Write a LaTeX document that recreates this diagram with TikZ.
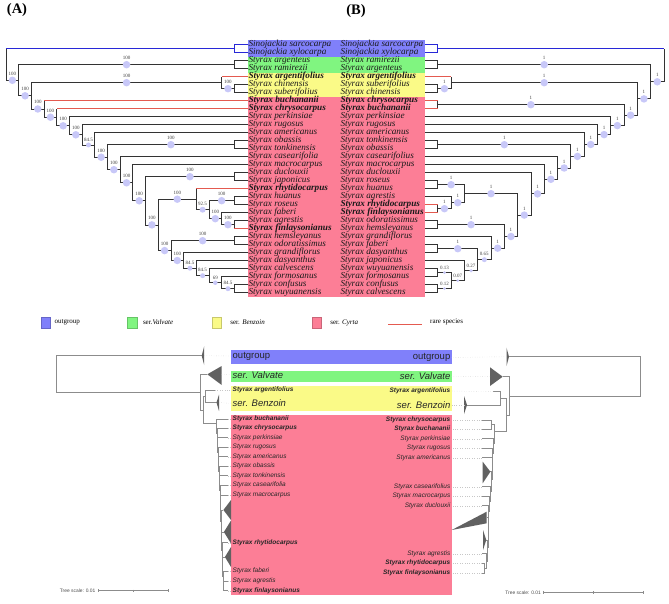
\documentclass[tikz,border=0pt]{standalone}
\usepackage{fontspec}
\setmainfont{Liberation Serif}
\setsansfont{Liberation Sans}
\usetikzlibrary{positioning,calc}
\definecolor{ogblue}{RGB}{128,128,250}
\definecolor{valgreen}{RGB}{128,245,128}
\definecolor{bzyellow}{RGB}{250,250,135}
\definecolor{cyrpink}{RGB}{252,126,150}
\definecolor{suppcol}{RGB}{200,200,248}
\definecolor{oglinecol}{RGB}{40,40,215}
\definecolor{rarecol}{RGB}{228,90,80}
\newcommand{\ax}[1]{247-12.68*#1}
\newcommand{\bx}[1]{424.5+13.3*#1}
\newcommand{\sbr}[4][7.5]{\draw[branch] (#2) |- (#3) node[support=#1,pos=.75,label={[suplab]above:#4}] (s-#3) {};}
\newcommand{\rtip}[2]{\draw[branch] (#1) -- (#1 |- #2); \draw[rare] (#1 |- #2) -- (#2);}

\begin{document}
\begin{tikzpicture}[x=1pt,y=-1pt,
branch/.style={draw=black!80, line width=0.8pt},
ogline/.style={draw=oglinecol, line width=0.8pt},
rare/.style={draw=rarecol, line width=0.8pt},
support/.style={circle, fill=suppcol, inner sep=0pt, minimum size=#1},
support/.default=7.5,
suplab/.style={font=\fontsize{5}{5}\selectfont, text=black!75, inner sep=0.4pt, label distance=0pt},
tipA/.style={anchor=west, inner sep=0pt, font=\fontsize{9.2}{9.2}\selectfont\itshape, text=black!90},
panel/.style={font=\fontsize{14.5}{14.5}\selectfont\bfseries, inner sep=0pt},
legbox/.style={rectangle, draw=#1!80!black, line width=0.3pt, fill=#1, minimum width=9.3pt, minimum height=11pt, inner sep=0pt},
legtext/.style={font=\fontsize{7}{7}\selectfont, inner sep=0pt},
itol/.style={draw=black!45, line width=0.5pt},
clade/.style={fill=black!62},
guide/.style={draw=black!22, dotted, line width=0.4pt},
mlab/.style={anchor=west, inner sep=0pt, font=\sffamily\fontsize{6.5}{6.5}\selectfont\itshape, text=black!85},
mlabr/.style={mlab, anchor=east},
mser/.style={anchor=west, inner sep=0pt, font=\sffamily\fontsize{9.5}{9.5}\selectfont, text=black!85},
mserr/.style={mser, anchor=east},
scaletext/.style={inner sep=0pt, font=\sffamily\fontsize{4.9}{4.9}\selectfont, text=black!70},
]
\useasboundingbox (0,0) rectangle (669,604);

\node[panel] (pa) at (17,10) {(A)};
\node[panel] (pb) at (356,11) {(B)};

\fill[ogblue] (248,39.7) rectangle (424.5,56.7);
\fill[valgreen] (248,56.7) rectangle (424.5,72.7);
\fill[bzyellow] (248,72.7) rectangle (424.5,96.7);
\fill[cyrpink] (248,96.7) rectangle (424.5,297);

\foreach \k/\nm in {1/Sinojackia sarcocarpa, 2/Sinojackia xylocarpa, 3/Styrax argenteus, 4/Styrax ramirezii,
  5/\textbf{Styrax argentifolius}, 6/Styrax chinensis, 7/Styrax suberifolius, 8/\textbf{Styrax buchananii},
  9/\textbf{Styrax chrysocarpus}, 10/Styrax perkinsiae, 11/Styrax rugosus, 12/Styrax americanus,
  13/Styrax obassis, 14/Styrax tonkinensis, 15/Styrax casearifolia, 16/Styrax macrocarpus,
  17/Styrax duclouxii, 18/Styrax japonicus, 19/\textbf{Styrax rhytidocarpus}, 20/Styrax huanus,
  21/Styrax roseus, 22/Styrax faberi, 23/Styrax agrestis, 24/\textbf{Styrax finlaysonianus},
  25/Styrax hemsleyanus, 26/Styrax odoratissimus, 27/Styrax grandiflorus, 28/Styrax dasyanthus,
  29/Styrax calvescens, 30/Styrax formosanus, 31/Styrax confusus, 32/Styrax wuyuanensis}
  \node[tipA] (la\k) at (248.3,{36.7+8*\k}) {\nm};

\foreach \k/\nm in {1/Sinojackia sarcocarpa, 2/Sinojackia xylocarpa, 3/Styrax ramirezii, 4/Styrax argenteus,
  5/\textbf{Styrax argentifolius}, 6/Styrax suberifolius, 7/Styrax chinensis, 8/\textbf{Styrax chrysocarpus},
  9/\textbf{Styrax buchananii}, 10/Styrax perkinsiae, 11/Styrax rugosus, 12/Styrax americanus,
  13/Styrax tonkinensis, 14/Styrax obassis, 15/Styrax casearifolius, 16/Styrax macrocarpus,
  17/Styrax duclouxii, 18/Styrax roseus, 19/Styrax huanus, 20/Styrax agrestis,
  21/\textbf{Styrax rhytidocarpus}, 22/\textbf{Styrax finlaysonianus}, 23/Styrax odoratissimus, 24/Styrax hemsleyanus,
  25/Styrax grandiflorus, 26/Styrax faberi, 27/Styrax dasyanthus, 28/Styrax japonicus,
  29/Styrax wuyuanensis, 30/Styrax formosanus, 31/Styrax confusus, 32/Styrax calvescens}
  {\node[tipA] (lr\k) at (340.3,{36.7+8*\k}) {\nm};
   \coordinate (bt\k) at (424.5,{36.7+8*\k});}

% tree A
\coordinate (A-r) at ({\ax{19}},64.5);
\coordinate (A-2) at ({\ax{18}},80.3);
\coordinate (A-3) at ({\ax{17}},95.8);
\coordinate (A-4) at ({\ax{16}},109.0);
\coordinate (A-5) at ({\ax{15}},117.2);
\coordinate (A-6) at ({\ax{14}},125.8);
\coordinate (A-7) at ({\ax{13}},134.8);
\coordinate (A-8) at ({\ax{12}},145.0);
\coordinate (A-9) at ({\ax{11}},157.2);
\coordinate (A-10) at ({\ax{10}},169.7);
\coordinate (A-11) at ({\ax{9}},182.8);
\coordinate (A-12) at ({\ax{8}},200.8);
\coordinate (A-13) at ({\ax{7}},224.9);
\coordinate (A-14) at ({\ax{6}},250.6);
\coordinate (A-15) at ({\ax{5}},260.5);
\coordinate (A-16) at ({\ax{4}},268.2);
\coordinate (A-17) at ({\ax{3}},275.7);
\coordinate (A-18) at ({\ax{2}},282.7);
\coordinate (A-19) at ({\ax{1}},288.7);
\coordinate (A-og) at ({\ax{1}},48.7);
\coordinate (A-va) at ({\ax{1}},64.7);
\coordinate (A-bz) at ({\ax{2}},82.7);
\coordinate (A-cs) at ({\ax{1}},88.7);
\coordinate (A-ot) at ({\ax{1}},144.7);
\coordinate (A-dj) at ({\ax{1}},176.7);
\coordinate (A-rh) at ({\ax{4}},199.2);
\coordinate (A-hf) at ({\ax{3}},209.7);
\coordinate (A-hr) at ({\ax{1}},200.7);
\coordinate (A-fa) at ({\ax{2}},218.7);
\coordinate (A-af) at ({\ax{1}},224.7);
\coordinate (A-ho) at ({\ax{1}},240.7);

\draw[branch] (A-r) -- (A-r |- A-og);
\draw[ogline] (A-r |- A-og) -- (A-og) |- (la1.west) (A-og) |- (la2.west);
\sbr{A-r}{A-2}{100}
\sbr{A-2}{A-va}{100}
\draw[branch] (A-va) |- (la3.west) (A-va) |- (la4.west);
\sbr{A-2}{A-3}{100}
\sbr{A-3}{A-bz}{100}
\rtip{A-bz}{la5.west}
\sbr{A-bz}{A-cs}{100}
\draw[branch] (A-cs) |- (la6.west) (A-cs) |- (la7.west);
\sbr{A-3}{A-4}{100}
\rtip{A-4}{la8.west}
\sbr{A-4}{A-5}{100}
\rtip{A-5}{la9.west}
\sbr{A-5}{A-6}{100}
\draw[branch] (A-6) |- (la10.west);
\sbr{A-6}{A-7}{100}
\draw[branch] (A-7) |- (la11.west);
\sbr[5]{A-7}{A-8}{84.5}
\draw[branch] (A-8) |- (la12.west);
\sbr{A-8}{A-9}{100}
\sbr{A-9}{A-ot}{100}
\draw[branch] (A-ot) |- (la13.west) (A-ot) |- (la14.west);
\sbr{A-9}{A-10}{100}
\draw[branch] (A-10) |- (la15.west);
\sbr{A-10}{A-11}{100}
\draw[branch] (A-11) |- (la16.west);
\sbr{A-11}{A-12}{100}
\sbr{A-12}{A-dj}{100}
\draw[branch] (A-dj) |- (la17.west) (A-dj) |- (la18.west);
\sbr{A-12}{A-13}{100}
\sbr{A-13}{A-rh}{100}
\rtip{A-rh}{la19.west}
\sbr[6]{A-rh}{A-hf}{92.5}
\sbr{A-hf}{A-hr}{100}
\draw[branch] (A-hr) |- (la20.west) (A-hr) |- (la21.west);
\sbr{A-hf}{A-fa}{100}
\draw[branch] (A-fa) |- (la22.west);
\sbr{A-fa}{A-af}{100}
\draw[branch] (A-af) |- (la23.west);
\rtip{A-af}{la24.west}
\sbr{A-13}{A-14}{100}
\sbr{A-14}{A-ho}{100}
\draw[branch] (A-ho) |- (la25.west) (A-ho) |- (la26.west);
\sbr{A-14}{A-15}{100}
\draw[branch] (A-15) |- (la27.west);
\sbr[5]{A-15}{A-16}{84.5}
\draw[branch] (A-16) |- (la28.west);
\sbr[5]{A-16}{A-17}{84.5}
\draw[branch] (A-17) |- (la29.west);
\sbr[4.5]{A-17}{A-18}{69}
\draw[branch] (A-18) |- (la30.west);
\sbr[5]{A-18}{A-19}{84.5}
\draw[branch] (A-19) |- (la31.west) (A-19) |- (la32.west);

% tree B
\coordinate (B-r) at ({\bx{18}},65.2);
\coordinate (B-2) at ({\bx{17}},81.8);
\coordinate (B-3) at ({\bx{16}},98.9);
\coordinate (B-4) at ({\bx{15}},115.2);
\coordinate (B-5) at ({\bx{14}},125.6);
\coordinate (B-6) at ({\bx{13}},134.6);
\coordinate (B-7) at ({\bx{12}},144.5);
\coordinate (B-8) at ({\bx{11}},156.4);
\coordinate (B-9) at ({\bx{10}},168.0);
\coordinate (B-10) at ({\bx{9}},179.3);
\coordinate (B-11) at ({\bx{8}},193.9);
\coordinate (B-12) at ({\bx{7}},215.1);
\coordinate (B-13) at ({\bx{6}},236.5);
\coordinate (B-14) at ({\bx{5}},248.2);
\coordinate (B-15) at ({\bx{4}},259.7);
\coordinate (B-16) at ({\bx{3}},270.7);
\coordinate (B-17) at ({\bx{2}},280.7);
\coordinate (B-og) at ({\bx{1}},48.7);
\coordinate (B-va) at ({\bx{1}},64.7);
\coordinate (B-bz) at ({\bx{2}},82.7);
\coordinate (B-sc) at ({\bx{1}},88.7);
\coordinate (B-cb) at ({\bx{1}},104.7);
\coordinate (B-to) at ({\bx{1}},144.7);
\coordinate (B-rc) at ({\bx{3}},193.7);
\coordinate (B-rh) at ({\bx{1}},184.7);
\coordinate (B-ag) at ({\bx{2}},202.7);
\coordinate (B-rf) at ({\bx{1}},208.7);
\coordinate (B-oh) at ({\bx{1}},224.7);
\coordinate (B-fd) at ({\bx{1}},248.7);
\coordinate (B-wf) at ({\bx{1}},272.7);
\coordinate (B-cc) at ({\bx{1}},288.7);

\draw[branch] (B-r) -- (B-r |- B-og);
\draw[ogline] (B-r |- B-og) -- (B-og) |- (bt1) (B-og) |- (bt2);
\sbr{B-r}{B-2}{1}
\sbr{B-2}{B-va}{1}
\draw[branch] (B-va) |- (bt3) (B-va) |- (bt4);
\sbr{B-2}{B-3}{1}
\sbr{B-3}{B-bz}{1}
\rtip{B-bz}{bt5}
\sbr{B-bz}{B-sc}{1}
\draw[branch] (B-sc) |- (bt6) (B-sc) |- (bt7);
\sbr{B-3}{B-4}{1}
\sbr{B-4}{B-cb}{1}
\rtip{B-cb}{bt8}
\rtip{B-cb}{bt9}
\sbr{B-4}{B-5}{1}
\draw[branch] (B-5) |- (bt10);
\sbr{B-5}{B-6}{1}
\draw[branch] (B-6) |- (bt11);
\sbr{B-6}{B-7}{1}
\draw[branch] (B-7) |- (bt12);
\sbr{B-7}{B-8}{1}
\sbr{B-8}{B-to}{1}
\draw[branch] (B-to) |- (bt13) (B-to) |- (bt14);
\sbr{B-8}{B-9}{1}
\draw[branch] (B-9) |- (bt15);
\sbr{B-9}{B-10}{1}
\draw[branch] (B-10) |- (bt16);
\sbr{B-10}{B-11}{1}
\draw[branch] (B-11) |- (bt17);
\sbr{B-11}{B-12}{1}
\sbr{B-12}{B-rc}{1}
\sbr{B-rc}{B-rh}{1}
\draw[branch] (B-rh) |- (bt18) (B-rh) |- (bt19);
\sbr{B-rc}{B-ag}{1}
\draw[branch] (B-ag) |- (bt20);
\sbr{B-ag}{B-rf}{1}
\rtip{B-rf}{bt21}
\rtip{B-rf}{bt22}
\sbr{B-12}{B-13}{1}
\sbr{B-13}{B-oh}{1}
\draw[branch] (B-oh) |- (bt23) (B-oh) |- (bt24);
\sbr{B-13}{B-14}{1}
\draw[branch] (B-14) |- (bt25);
\sbr[5]{B-14}{B-15}{0.65}
\sbr{B-15}{B-fd}{1}
\draw[branch] (B-fd) |- (bt26) (B-fd) |- (bt27);
\sbr[3.5]{B-15}{B-16}{0.27}
\draw[branch] (B-16) |- (bt28);
\sbr[3]{B-16}{B-17}{0.07}
\sbr[3]{B-17}{B-wf}{0.13}
\draw[branch] (B-wf) |- (bt29) (B-wf) |- (bt30);
\sbr[3]{B-17}{B-cc}{0.12}
\draw[branch] (B-cc) |- (bt31) (B-cc) |- (bt32);

% legend
\node[legbox=ogblue] (k-og) at (45.3,322.5) {};
\node[legtext, right=4.3pt of k-og] (t-og) {outgroup};
\node[legbox=valgreen] (k-va) at (132,322.5) {};
\node[legtext, right=6pt of k-va] (t-va) {ser.\textit{Valvate}};
\node[legbox=bzyellow] (k-bz) at (216.7,322.5) {};
\node[legtext, right=8.7pt of k-bz] (t-bz) {ser. \textit{Benzoin}};
\node[legbox=cyrpink] (k-cy) at (316.3,322.5) {};
\node[legtext, right=9pt of k-cy] (t-cy) {ser. \textit{Cyrta}};
\coordinate (k-ra) at (388.3,324);
\coordinate (k-rb) at (421.7,324);
\draw[rare] (k-ra) -- (k-rb);
\node[legtext, anchor=west] (t-ra) at (430,321.5) {rare species};

% collapsed trees
\fill[ogblue] (231,350) rectangle (452,364);
\fill[valgreen] (231,370.7) rectangle (452,381.7);
\fill[bzyellow] (231,386) rectangle (452,410.7);
\fill[cyrpink] (231,415) rectangle (452,595);

\node[mser] (ml-og) at (232.5,356) {outgroup};
\node[mser, font=\sffamily\fontsize{9.5}{9.5}\selectfont\itshape] (ml-va) at (232.5,375) {ser. Valvate};
\node[mlab] (ml-ar) at (232.5,390) {\textbf{Styrax argentifolius}};
\node[mser, font=\sffamily\fontsize{9.5}{9.5}\selectfont\itshape] (ml-bz) at (232.5,403.5) {ser. Benzoin};
\node[mserr] (mr-og) at (450.5,357.5) {outgroup};
\node[mserr, font=\sffamily\fontsize{9.5}{9.5}\selectfont\itshape] (mr-va) at (450.5,376.5) {ser. Valvate};
\node[mlabr] (mr-ar) at (450.5,391) {\textbf{Styrax argentifolius}};
\node[mserr, font=\sffamily\fontsize{9.5}{9.5}\selectfont\itshape] (mr-bz) at (450.5,405) {ser. Benzoin};

\foreach \nm/\yy [count=\i] in {\textbf{Styrax buchananii}/419, \textbf{Styrax chrysocarpus}/428.3,
  Styrax perkinsiae/437.7, Styrax rugosus/447.3, Styrax americanus/456.7, Styrax obassis/466.3,
  Styrax tonkinensis/475.7, Styrax casearifolia/485.3, Styrax macrocarpus/495,
  \textbf{Styrax rhytidocarpus}/542.7, Styrax faberi/571.3, Styrax agrestis/581,
  \textbf{Styrax finlaysonianus}/590.7}
  \node[mlab] (ml\i) at (232.5,\yy) {\nm};
\foreach \nm/\yy [count=\i] in {\textbf{Styrax chrysocarpus}/420, \textbf{Styrax buchananii}/429.3,
  Styrax perkinsiae/438.7, Styrax rugosus/448.3, Styrax americanus/457.7, Styrax casearifolius/486.7,
  Styrax macrocarpus/496.3, Styrax duclouxii/505.7, Styrax agrestis/553.7,
  \textbf{Styrax rhytidocarpus}/563.3, \textbf{Styrax finlaysonianus}/573}
  \node[mlabr] (mr\i) at (450.5,\yy) {\nm};

% left collapsed tree
\coordinate (L-r) at (56,374);
\coordinate (L-og) at (201.7,355.7);
\coordinate (L-2) at (200,392.2);
\coordinate (L-va) at (207.3,374.3);
\coordinate (L-3) at (203.3,410);
\coordinate (L-bz) at (205,396.3);
\coordinate (L-ar) at (215,390);
\coordinate (L-bt) at (216.5,402.5);
\foreach \nx/\ny [count=\j from 0] in {216.7/423.7, 217.2/433.0, 217.7/442.5, 218.2/452.0, 218.7/461.5,
  219.2/471.0, 219.7/480.5, 220.2/490.2, 220.7/502.5, 221.2/521.0, 221.7/537.4, 222.2/549.9,
  222.7/564.2, 223.2/576.2, 223.7/585.9}
  \coordinate (L-c\j) at (\nx,\ny);
\foreach \tx/\ty [count=\j from 0] in {228/419, 228/428.3, 228/437.7, 228/447.3, 228/456.7, 228/466.3,
  228/475.7, 228/485.3, 228/495, 223.4/510, 223.9/532, 228/542.7, 224.9/557, 228/571.3, 228/581, 228/590.7}
  \coordinate (L-t\j) at (\tx,\ty);

\draw[itol] (L-r) |- (L-og) (L-r) |- (L-2);
\fill[clade] (L-og) -- ++(2.5,-9.5) -- ++(0,19) -- cycle;
\draw[guide] ([xshift=2.5pt]L-og) -- (ml-og.west);
\draw[itol] (L-2) |- (L-va) (L-2) |- (L-3);
\fill[clade] (L-va) -- ++(14.4,-8.3) -- ++(0,19) -- cycle;
\draw[guide] ([xshift=14.4pt]L-va) -- (ml-va.west);
\draw[itol] (L-3) |- (L-bz) (L-3) |- (L-c0);
\draw[itol] (L-bz) |- (L-ar) (L-bz) |- (L-bt);
\draw[guide] (L-ar) -- (ml-ar.west);
\fill[clade] (L-bt) -- ++(2.5,-8) -- ++(0,16.5) -- cycle;
\draw[guide] ([xshift=2.5pt]L-bt) -- (ml-bz.west);
\foreach \j [evaluate=\j as \k using int(\j+1)] in {0,...,13}
  \draw[itol] (L-c\j) |- (L-c\k);
\foreach \j in {0,...,14}
  \draw[itol] (L-c\j) |- (L-t\j);
\draw[itol] (L-c14) |- (L-t15);
\foreach \j/\w/\h in {9/7.6/10, 10/7.1/11.5, 12/6.1/10}
  \fill[clade] (L-t\j) -- ++(\w,-\h) -- ++(0,{2*\h}) -- cycle;
\foreach \j/\i in {0/1, 1/2, 2/3, 3/4, 4/5, 5/6, 6/7, 7/8, 8/9, 11/10, 13/11, 14/12, 15/13}
  \draw[guide] (L-t\j) -- (ml\i.west);

% right collapsed tree
\coordinate (R-r) at (640,376.3);
\coordinate (R-og) at (509,356.7);
\coordinate (R-2) at (509.3,395.9);
\coordinate (R-va) at (502.7,376.7);
\coordinate (R-3) at (506.7,415);
\coordinate (R-bz) at (500,398.3);
\coordinate (R-ar) at (493.3,391.7);
\coordinate (R-bt) at (467,405);
\coordinate (R-ch) at (481.7,420);
\coordinate (R-bu) at (481.7,429.3);
\coordinate (R-rh) at (481.7,563.3);
\coordinate (R-fi) at (481.7,573);
\foreach \nx/\ny [count=\j from 0] in {494.3/431.7, 493.5/443.5, 492.7/453.0, 491.9/464.7, 491.1/479.2,
  490.3/491.5, 489.5/501.0, 488.7/511.6, 487.9/528.8, 487.1/546.9, 486.3/561.0}
  \coordinate (R-c\j) at (\nx,\ny);
\foreach \tx/\ty [count=\j from 0] in {491.7/424.7, 481.7/438.7, 481.7/448.3, 481.7/457.7, 490.4/471.7,
  481.7/486.7, 481.7/496.3, 481.7/505.7, 486.7/517.5, 486.3/540, 481.7/553.7, 484.3/568.2}
  \coordinate (R-t\j) at (\tx,\ty);

\draw[itol] (R-r) |- (R-og) (R-r) |- (R-2);
\fill[clade] (R-og) -- ++(-2.5,-9) -- ++(0,18.5) -- cycle;
\draw[guide] ([xshift=-2.5pt]R-og) -- (mr-og.east);
\draw[itol] (R-2) |- (R-va) (R-2) |- (R-3);
\fill[clade] (R-va) -- ++(-12.7,-9.4) -- ++(0,18.7) -- cycle;
\draw[guide] ([xshift=-12.7pt]R-va) -- (mr-va.east);
\draw[itol] (R-3) |- (R-bz) (R-3) |- (R-c0);
\draw[itol] (R-bz) |- (R-ar) (R-bz) |- (R-bt);
\draw[guide] (R-ar) -- (mr-ar.east);
\fill[clade] (R-bt) -- ++(-3,-9) -- ++(0,18) -- cycle;
\draw[guide] ([xshift=-3pt]R-bt) -- (mr-bz.east);
\foreach \j [evaluate=\j as \k using int(\j+1)] in {0,...,9}
  \draw[itol] (R-c\j) |- (R-c\k);
\foreach \j in {0,...,10}
  \draw[itol] (R-c\j) |- (R-t\j);
\draw[itol] (R-c10) |- (R-t11);
\draw[itol] (R-t0) |- (R-ch) (R-t0) |- (R-bu);
\draw[itol] (R-t11) |- (R-rh) (R-t11) |- (R-fi);
\fill[clade] (R-t4) -- ++(-7.7,-10) -- ++(0,21.6) -- cycle;
\fill[clade] ([yshift=5.8pt]R-t8) -- ([yshift=-5.8pt]R-t8) -- ++(-35,6.7) -- cycle;
\fill[clade] (R-t9) -- ++(-3.3,-10) -- ++(0,20) -- cycle;
\foreach \a/\i in {R-ch/1, R-bu/2, R-t1/3, R-t2/4, R-t3/5, R-t5/6, R-t6/7, R-t7/8, R-t10/9, R-rh/10, R-fi/11}
  \draw[guide] (\a) -- (mr\i.east);

% scale bars
\node[scaletext, anchor=east] (sc-l) at (95.5,590.7) {Tree scale: 0.01};
\coordinate (sl-a) at (98.3,590.7);
\coordinate (sl-b) at (168.3,590.7);
\draw[itol] (sl-a) -- (sl-b);
\draw[itol] (sl-a) ++(0,-1.5) -- ++(0,3) ($(sl-a)!.5!(sl-b)$) ++(0,-1.2) -- ++(0,2.4) (sl-b) ++(0,-1.5) -- ++(0,3);
\node[scaletext, anchor=east] (sc-r) at (541,592.3) {Tree scale: 0.01};
\coordinate (sr-a) at (543.3,592.3);
\coordinate (sr-b) at (643.3,592.3);
\draw[itol] (sr-a) -- (sr-b);
\draw[itol] (sr-a) ++(0,-1.5) -- ++(0,3) ($(sr-a)!.5!(sr-b)$) ++(0,-1.2) -- ++(0,2.4) (sr-b) ++(0,-1.5) -- ++(0,3);
\end{tikzpicture}
\end{document}
